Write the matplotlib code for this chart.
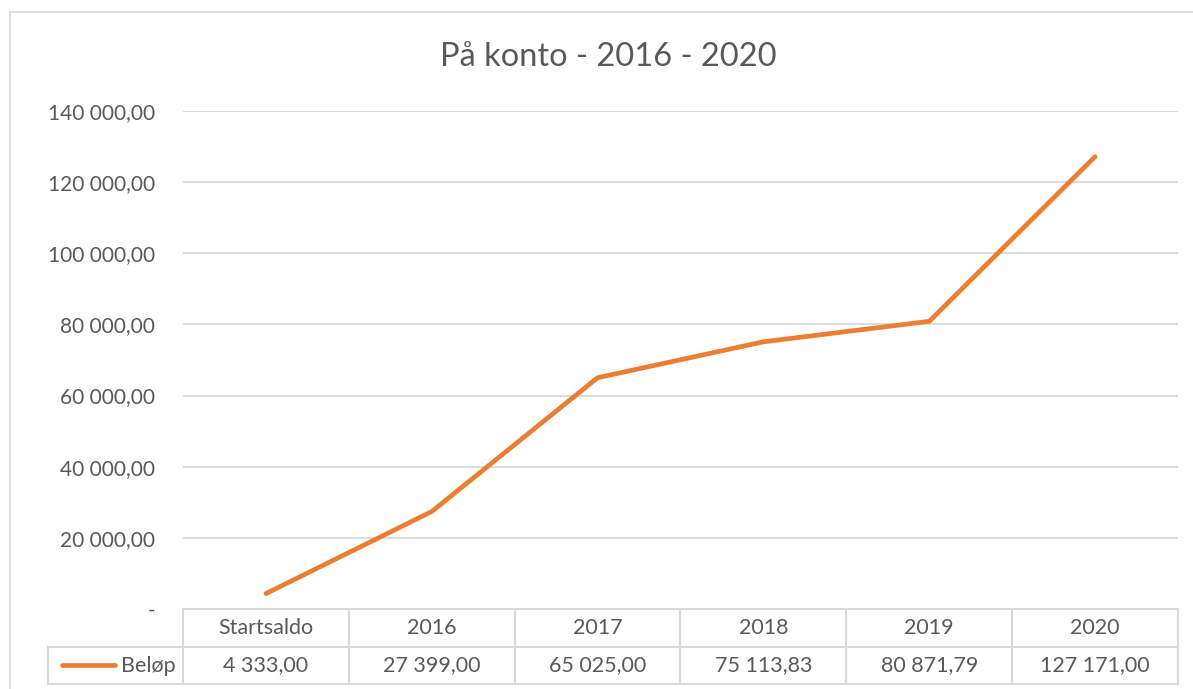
import matplotlib
matplotlib.use('Agg')
import matplotlib.pyplot as plt
from matplotlib.lines import Line2D
from matplotlib.patches import Rectangle
from matplotlib.ticker import FuncFormatter

plt.rcParams['font.family'] = ['Lato', 'DejaVu Sans']

categories = ['Startsaldo', '2016', '2017', '2018', '2019', '2020']
belop = [4333.00, 27399.00, 65025.00, 75113.83, 80871.79, 127171.00]
series_name = 'Beløp'
title = 'På konto - 2016 - 2020'
y_ticks = [0, 20000, 40000, 60000, 80000, 100000, 120000, 140000]

W, H = 1193, 689
ORANGE = '#ED7D31'
GRID = '#d9d9d9'
TXT = '#595959'


def fx(px):
    return px / W


def fy(py):
    return 1 - py / H


def fmt_no(v, pos=None):
    if v == 0:
        return '-'
    s = f'{v:,.2f}'
    return s.replace(',', ' ').replace('.', ',')


fig = plt.figure(figsize=(W / 100, H / 100), dpi=100)

# outer chart border
fig.add_artist(Rectangle((fx(10), fy(700)), fx(1200), fy(12) - fy(700),
                         transform=fig.transFigure, fill=False,
                         edgecolor=GRID, lw=1.2))

left, right, top, bottom = 183, 1178, 111, 609
ax = fig.add_axes([fx(left), fy(bottom), fx(right - left), fy(top) - fy(bottom)])
x = list(range(len(categories)))
ax.plot(x, belop, color=ORANGE, lw=3.4, solid_capstyle='round',
        solid_joinstyle='round', zorder=3)
ax.set_xlim(-0.5, len(categories) - 0.5)
ax.set_ylim(0, 140000)
ax.set_yticks(y_ticks)
ax.yaxis.set_major_formatter(FuncFormatter(fmt_no))
ax.grid(axis='y', color=GRID, lw=1.3)
ax.set_axisbelow(True)
ax.set_xticks([])
ax.tick_params(axis='y', length=0, pad=20, labelsize=15, labelcolor=TXT)
for sp in ax.spines.values():
    sp.set_visible(False)

fig.text(fx(608), fy(57), title, ha='center', va='center', fontsize=23.5, color=TXT)

# data table below the plot
row1, row2, row3 = 609, 647, 684
col_w = (right - left) / len(categories)
lk = dict(transform=fig.transFigure, color=GRID, lw=1.5)
fig.add_artist(Line2D([fx(left), fx(right)], [fy(row1), fy(row1)], **lk))
fig.add_artist(Line2D([fx(48), fx(right)], [fy(row2), fy(row2)], **lk))
fig.add_artist(Line2D([fx(48), fx(right)], [fy(row3), fy(row3)], **lk))
fig.add_artist(Line2D([fx(48), fx(48)], [fy(row2), fy(row3)], **lk))
for i in range(len(categories) + 1):
    cx = left + i * col_w
    fig.add_artist(Line2D([fx(cx), fx(cx)], [fy(row1), fy(row3)], **lk))

for i, (c, v) in enumerate(zip(categories, belop)):
    cx = left + (i + 0.5) * col_w
    fig.text(fx(cx), fy((row1 + row2) / 2), c, ha='center', va='center',
             fontsize=15.5, color=TXT)
    fig.text(fx(cx), fy((row2 + row3) / 2), fmt_no(v), ha='center', va='center',
             fontsize=15.5, color=TXT)

fig.add_artist(Line2D([fx(62), fx(115)], [fy(665), fy(665)],
                      transform=fig.transFigure, color=ORANGE, lw=3.4,
                      solid_capstyle='round'))
fig.text(fx(176), fy((row2 + row3) / 2), series_name, ha='right', va='center',
         fontsize=15.5, color=TXT)

fig.savefig('out.png', dpi=100)
